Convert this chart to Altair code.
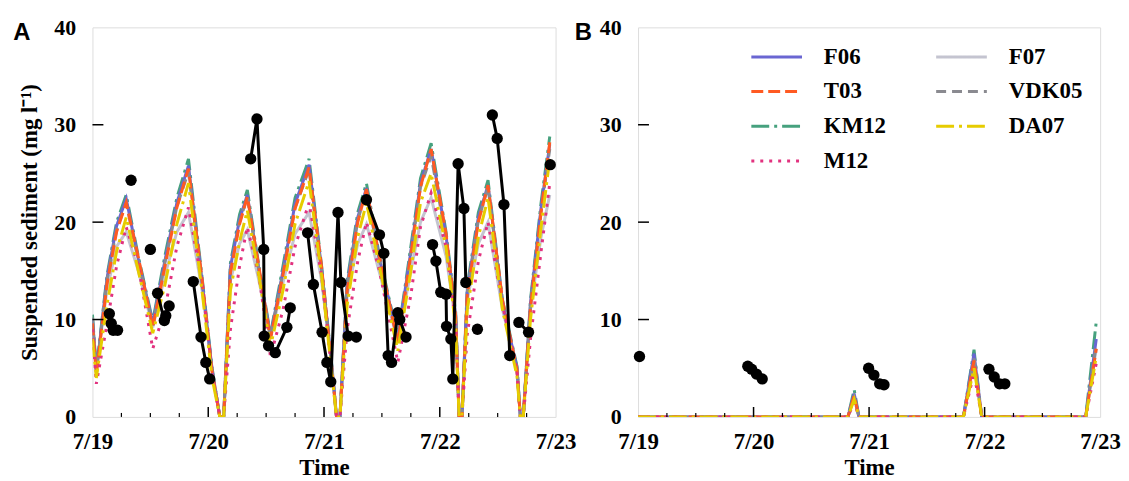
import altair as alt
import pandas as pd

# ---------------- data ----------------
day_labels = ["7/19", "7/20", "7/21", "7/22", "7/23"]
day_ticks = [0, 24, 48, 72, 96]
minor_ticks = [6, 12, 18, 30, 36, 42, 54, 60, 66, 78, 84, 90]
major_x_ticks = [24, 48, 72]
y_ticks = [10, 20, 30]

# legend order (filled column by column: F06,T03,KM12,M12 | F07,VDK05,DA07)
models = ["F06", "T03", "KM12", "M12", "F07", "VDK05", "DA07"]
model_colors = ["#6a66d2", "#ff5a22", "#46a17e", "#e2327f", "#c4c4d0", "#8a8a90", "#e6cc00"]
model_dashes = [[1, 0], [12, 5], [18, 5, 3, 5], [3, 6], [1, 0], [10, 6], [18, 5, 3, 5]]
draw_order = ["F07", "KM12", "F06", "VDK05", "T03", "M12", "DA07"]

# Panel A model time knots (hours after 7/19 00:00)
tA = [0, 0.8, 3.0, 5.0, 7.0, 9.5, 12.5, 15.0, 17.5, 19.9, 22.8, 24.8, 26.4, 27.2, 28.6, 30.5,
      32.1, 34.5, 36.9, 39.5, 42.0, 44.9, 47.5, 49.5, 50.6, 51.3, 52.8, 55.0, 56.8, 59.5, 63.3,
      66.0, 68.0, 70.2, 73.3, 75.3, 76.0, 76.6, 77.7, 80.0, 82.0, 85.0, 88.0, 88.7, 89.3, 90.8,
      93.0, 94.8]
a_km12 = [10.5, 4.8, 14.5, 20.0, 22.8, 16.5, 9.8, 16.5, 22.5, 26.5, 14.0, 5.0, 0, 0, 15.8, 20.8,
          23.3, 15.5, 8.5, 15.5, 22.5, 26.5, 15.5, 6.0, 0, 0, 14.0, 21.0, 24.0, 16.5, 8.2,
          17.5, 24.5, 28.1, 19.0, 10.7, 0, 0, 13.4, 21.0, 24.3, 12.0, 5.2, 0, 0, 12.0,
          22.0, 28.8]
a_f06 = [10.0, 4.6, 14.2, 19.6, 22.4, 16.2, 9.6, 16.0, 22.0, 25.8, 13.6, 4.8, 0, 0, 15.4, 20.3,
         22.8, 15.2, 8.3, 15.0, 21.9, 25.9, 15.2, 5.8, 0, 0, 13.6, 20.5, 23.5, 16.2, 8.0,
         17.0, 24.0, 27.5, 18.6, 10.4, 0, 0, 13.0, 20.5, 23.8, 11.7, 5.0, 0, 0, 11.7,
         21.5, 28.0]
a_t03 = [9.6, 4.4, 13.6, 19.0, 22.0, 16.4, 9.2, 15.4, 21.5, 25.5, 13.8, 4.6, 0, 0, 14.8, 19.8,
         22.6, 15.4, 8.0, 14.6, 21.4, 25.6, 15.4, 5.6, 0, 0, 13.0, 20.0, 23.4, 16.4, 7.6,
         16.6, 23.6, 27.5, 18.8, 10.2, 0, 0, 12.6, 20.0, 23.8, 12.0, 4.8, 0, 0, 11.2,
         21.0, 28.2]
a_vdk05 = [10.2, 4.6, 14.0, 19.2, 22.0, 16.0, 9.4, 15.8, 21.6, 25.2, 13.4, 4.8, 0, 0, 15.0, 20.0,
           22.6, 15.0, 8.2, 14.8, 21.5, 25.4, 15.0, 5.8, 0, 0, 13.4, 20.2, 23.2, 16.0, 7.8,
           16.8, 23.6, 26.8, 18.4, 10.3, 0, 0, 12.8, 20.2, 23.6, 11.6, 5.0, 0, 0, 11.5,
           21.2, 27.5]
a_da07 = [8.0, 4.0, 11.5, 17.0, 20.5, 15.0, 8.6, 13.5, 19.8, 24.0, 12.6, 4.0, 0, 0, 13.0, 18.0,
          21.2, 14.5, 7.2, 13.0, 19.8, 24.2, 14.5, 5.0, 0, 0, 11.5, 18.5, 22.0, 15.4, 6.8,
          15.0, 22.0, 25.0, 17.4, 9.2, 0, 0, 11.0, 18.5, 22.5, 11.0, 4.2, 0, 0, 10.0,
          19.5, 26.5]
a_f07 = [9.5, 5.0, 13.0, 17.5, 19.0, 15.0, 9.2, 14.5, 19.0, 21.0, 12.8, 5.0, 0, 0, 14.0, 17.8,
         19.2, 14.0, 8.2, 13.8, 18.8, 21.0, 14.0, 5.8, 0, 0, 12.5, 17.8, 19.8, 14.8, 7.8,
         15.0, 20.0, 22.5, 16.5, 9.8, 0, 0, 12.0, 17.8, 20.0, 11.0, 5.2, 0, 0, 11.0,
         18.5, 22.8]
a_m12 = [9.0, 3.4, 9.5, 15.5, 19.5, 15.5, 7.0, 11.0, 17.5, 21.5, 13.5, 4.5, 0, 0, 9.0, 15.5,
         19.5, 14.5, 6.2, 11.0, 17.5, 22.0, 14.5, 5.2, 0, 0, 9.0, 16.0, 20.0, 15.0, 5.6,
         12.5, 19.5, 23.0, 17.5, 9.5, 0, 0, 8.5, 16.0, 20.0, 11.5, 4.8, 0, 0, 8.0,
         17.0, 24.0]

# Panel B model knots
tB = [0, 43.6, 44.9, 45.9, 67.6, 69.8, 71.4, 93.0, 95.2]
b_km12 = [0, 0, 2.8, 0, 0, 6.9, 0, 0, 9.8]
b_f06 = [0, 0, 2.4, 0, 0, 6.5, 0, 0, 8.0]
b_t03 = [0, 0, 2.2, 0, 0, 5.8, 0, 0, 7.0]
b_vdk05 = [0, 0, 2.0, 0, 0, 6.0, 0, 0, 7.5]
b_da07 = [0, 0, 1.8, 0, 0, 5.0, 0, 0, 6.2]
b_f07 = [0, 0, 2.0, 0, 0, 5.5, 0, 0, 7.0]
b_m12 = [0, 0, 1.5, 0, 0, 4.5, 0, 0, 5.5]

# Observations, panel A (hours, mg/l, connected group)
obsA_t = [3.5, 3.9, 4.3, 5.2, 8.0, 12.0, 13.5, 14.9, 15.2, 15.9, 20.9, 22.5, 23.5, 24.3,
          32.8, 34.1, 35.5, 35.6, 36.5, 37.9, 40.3, 41.0,
          44.6, 45.8, 47.6, 48.6, 49.4, 50.9, 51.5, 53.0, 54.7,
          56.8, 59.5, 60.4, 61.3, 62.0, 63.3, 63.7, 65.0,
          70.5, 71.2, 72.2, 73.3, 73.4, 74.3, 74.7, 75.8, 77.0, 77.4,
          79.8, 82.9, 83.9, 85.3, 86.5, 88.4, 90.4, 94.9]
obsA_v = [10.6, 9.6, 8.9, 8.9, 24.3, 17.2, 12.7, 9.9, 10.4, 11.4, 13.9, 8.2, 5.6, 3.9,
          26.5, 30.6, 17.2, 8.3, 7.3, 6.6, 9.2, 11.2,
          18.9, 13.6, 8.7, 5.6, 3.6, 21.0, 13.8, 8.3, 8.2,
          22.3, 18.7, 16.8, 6.3, 5.6, 10.7, 10.0, 8.2,
          17.7, 16.0, 12.8, 12.6, 9.3, 8.0, 3.9, 26.0, 21.4, 13.8,
          9.0, 31.0, 28.6, 21.8, 6.3, 9.7, 8.7, 25.9]
obsA_g = [1, 1, 1, 1, 2, 3, 4, 4, 4, 4, 5, 5, 5, 5,
          6, 6, 6, 6, 6, 6, 6, 6,
          7, 7, 7, 7, 7, 7, 7, 7, 7,
          8, 8, 8, 8, 8, 8, 8, 8,
          9, 9, 9, 9, 9, 9, 9, 9, 9, 9,
          10, 11, 11, 11, 11, 12, 12, 13]

# Observations, panel B
obsB_t = [0.3, 22.8, 23.6, 24.6, 25.8, 47.9, 49.0, 50.2, 51.1, 72.9, 74.0, 75.1, 76.2]
obsB_v = [6.2, 5.2, 4.9, 4.4, 3.9, 5.0, 4.3, 3.4, 3.3, 4.9, 4.1, 3.4, 3.4]
obsB_g = [1, 2, 2, 2, 2, 3, 3, 3, 3, 4, 4, 4, 4]

seriesA = {"KM12": a_km12, "F06": a_f06, "T03": a_t03, "VDK05": a_vdk05,
           "DA07": a_da07, "F07": a_f07, "M12": a_m12}
seriesB = {"KM12": b_km12, "F06": b_f06, "T03": b_t03, "VDK05": b_vdk05,
           "DA07": b_da07, "F07": b_f07, "M12": b_m12}

SERIF = "Liberation Serif"
W_A, W_B, H = 466, 465, 392
label_expr = "[" + ",".join("'%s'" % d for d in day_labels) + "][round(datum.value/24)]"


def model_df(t, series):
    rows = []
    for m in draw_order:
        for tt, v in zip(t, series[m]):
            rows.append({"t": tt, "v": v, "model": m})
    return pd.DataFrame(rows)


def panel(letter, t, series, ot, ov, og, width, show_title, show_legend, obs_line):
    xs = alt.Scale(domain=[0, 96], nice=False, zero=False)
    ys = alt.Scale(domain=[0, 40], nice=False)
    xaxis = alt.Axis(values=day_ticks, labelExpr=label_expr, title="Time", grid=False,
                     domain=False, ticks=False, labelFont=SERIF, labelFontWeight="bold",
                     labelFontSize=23, labelColor="black", labelPadding=14, labelFlush=False,
                     titleFont=SERIF, titleFontWeight="bold", titleFontSize=23,
                     titleColor="black", titlePadding=3)
    yaxis = alt.Axis(values=[0, 10, 20, 30, 40], grid=False, domain=False, ticks=False,
                     labelFont=SERIF, labelFontWeight="bold", labelFontSize=22,
                     labelColor="black", labelPadding=17, labelFlush=False,
                     title=("Suspended sediment (mg l\u207b\u00b9)" if show_title else None),
                     titleFont=SERIF, titleFontWeight="bold", titleFontSize=23,
                     titleColor="black", titlePadding=12)
    if show_legend:
        leg = alt.Legend(title=None, orient="none", legendX=125, legendY=15, columns=2,
                         symbolType="M-2,0H2", symbolSize=650, symbolStrokeWidth=3,
                         labelFont=SERIF, labelFontWeight="bold", labelFontSize=23,
                         labelColor="black", labelOffset=33, columnPadding=44,
                         rowPadding=8, padding=0, symbolOpacity=1)
    else:
        leg = None
    color = alt.Color("model:N", scale=alt.Scale(domain=models, range=model_colors), legend=leg)
    dash = alt.StrokeDash("model:N", scale=alt.Scale(domain=models, range=model_dashes), legend=leg)

    mdf = model_df(t, series)
    lines = alt.Chart(mdf).mark_line(strokeWidth=3, clip=True).encode(
        x=alt.X("t:Q", scale=xs, axis=xaxis),
        y=alt.Y("v:Q", scale=ys, axis=yaxis),
        color=color, strokeDash=dash)

    odf = pd.DataFrame({"t": ot, "v": ov, "g": og})
    layers = [lines]
    if obs_line:
        layers.append(alt.Chart(odf).mark_line(color="black", strokeWidth=3).encode(
            x=alt.X("t:Q", scale=xs), y=alt.Y("v:Q", scale=ys), detail="g:N"))
    layers.append(alt.Chart(odf).mark_circle(color="black", size=130, opacity=1).encode(
        x=alt.X("t:Q", scale=xs), y=alt.Y("v:Q", scale=ys)))

    ytk = pd.DataFrame({"v": y_ticks})
    layers.append(alt.Chart(ytk).mark_rule(color="black", strokeWidth=1.5).encode(
        y=alt.Y("v:Q", scale=ys), x=alt.value(0), x2=alt.value(11)))
    xmj = pd.DataFrame({"t": major_x_ticks})
    layers.append(alt.Chart(xmj).mark_rule(color="black", strokeWidth=1.5).encode(
        x=alt.X("t:Q", scale=xs), y=alt.value(H), y2=alt.value(H - 10)))
    xmn = pd.DataFrame({"t": minor_ticks})
    layers.append(alt.Chart(xmn).mark_rule(color="black", strokeWidth=1.2).encode(
        x=alt.X("t:Q", scale=xs), y=alt.value(H), y2=alt.value(H - 4)))

    lab = pd.DataFrame({"lab": [letter]})
    lx = -71 if letter == "A" else -55
    layers.append(alt.Chart(lab).mark_text(font="Liberation Sans", fontWeight="bold",
                                           fontSize=24, color="black", align="center",
                                           baseline="middle").encode(
        text="lab:N", x=alt.value(lx), y=alt.value(6)))

    return alt.layer(*layers).properties(width=width, height=H).resolve_scale(
        color="independent", strokeDash="independent")


pA = panel("A", tA, seriesA, obsA_t, obsA_v, obsA_g, W_A, True, False, True)
pB = panel("B", tB, seriesB, obsB_t, obsB_v, obsB_g, W_B, False, True, False)

chart = alt.hconcat(pA, pB, spacing=83, bounds="flush").resolve_scale(
    color="independent", strokeDash="independent"
).properties(
    padding={"left": 4, "top": 6, "right": 0, "bottom": 0}
).configure_view(stroke="black", strokeWidth=1.6).configure(background="white")

chart.save("out.html", embed_options={"renderer": "svg", "actions": False})
